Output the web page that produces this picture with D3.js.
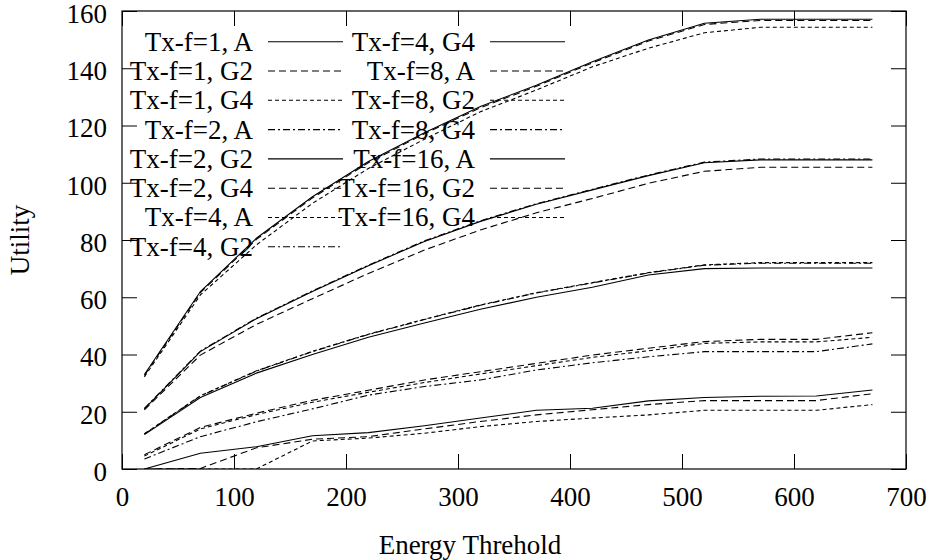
<!DOCTYPE html>
<html>
<head>
<meta charset="utf-8">
<script src="https://cdn.jsdelivr.net/npm/d3@7"></script>
<style>
  body { margin: 0; background: #fff; }
  svg { display: block; font-family: "Liberation Serif", "Times New Roman", serif; }
</style>
</head>
<body>
<div id="chart"></div>
<script>
  // energy threshold values (x)
  var energy = [20, 70, 120, 170, 220, 270, 320, 370, 420, 470, 520, 570, 620, 670];

  // utility per series
  var f1A  = [33.0, 62.0, 80.6, 95.1, 107.4, 117.5, 126.6, 134.1, 142.3, 149.9, 155.7, 157.1, 157.1, 157.1];
  var f1G2 = [32.7, 61.6, 80.2, 94.7, 107.0, 117.1, 126.2, 133.7, 141.9, 149.5, 155.3, 156.7, 156.7, 156.7];
  var f1G4 = [32.2, 60.8, 78.3, 92.8, 105.0, 115.2, 124.8, 132.4, 140.5, 147.0, 152.4, 154.3, 154.3, 154.3];
  var f2A  = [21.2, 41.2, 52.7, 62.2, 71.2, 79.7, 86.7, 92.7, 97.7, 102.7, 107.2, 108.3, 108.3, 108.3];
  var f2G2 = [21.0, 41.0, 52.5, 62.0, 71.0, 79.5, 86.5, 92.5, 97.5, 102.5, 107.0, 108.0, 108.0, 108.0];
  var f2G4 = [20.7, 39.8, 50.5, 59.5, 68.3, 76.5, 83.5, 89.5, 94.5, 99.8, 104.0, 105.4, 105.4, 105.4];
  var f4A  = [12.3, 25.6, 34.3, 41.1, 47.1, 52.3, 57.3, 61.6, 65.1, 68.6, 71.3, 72.1, 72.1, 72.1];
  var f4G2 = [12.2, 25.5, 34.2, 41.0, 47.0, 52.2, 57.2, 61.5, 65.0, 68.5, 71.2, 71.9, 71.9, 71.9];
  var f4G4 = [12.0, 25.0, 33.5, 40.0, 46.0, 51.0, 55.8, 60.0, 63.5, 67.8, 70.0, 70.2, 70.2, 70.2];
  var f8A  = [5.0, 14.5, 19.5, 24.0, 27.5, 31.1, 34.0, 36.9, 39.8, 42.2, 44.5, 45.3, 45.3, 47.6];
  var f8G2 = [4.5, 14.0, 19.0, 23.3, 26.8, 30.2, 33.2, 36.1, 39.0, 41.3, 43.9, 44.4, 44.4, 46.0];
  var f8G4 = [3.5, 11.3, 16.5, 21.0, 25.8, 28.8, 31.1, 34.6, 37.1, 39.2, 41.0, 41.0, 41.0, 43.7];
  var f16A  = [0.0, 5.5, 7.8, 11.6, 12.7, 15.1, 17.8, 20.5, 21.2, 23.8, 25.0, 25.4, 25.5, 27.6];
  var f16G2 = [0.0, 0.2, 7.4, 10.4, 11.3, 14.0, 16.6, 18.9, 20.7, 22.5, 23.9, 23.9, 23.9, 26.3];
  var f16G4 = [0.0, 0.0, 0.0, 9.8, 10.8, 12.5, 14.8, 16.6, 17.8, 18.9, 20.5, 20.5, 20.5, 22.5];

  var seriesNames = ["Tx-f=1, A", "Tx-f=1, G2", "Tx-f=1, G4",
    "Tx-f=2, A", "Tx-f=2, G2", "Tx-f=2, G4",
    "Tx-f=4, A", "Tx-f=4, G2", "Tx-f=4, G4",
    "Tx-f=8, A", "Tx-f=8, G2", "Tx-f=8, G4",
    "Tx-f=16, A", "Tx-f=16, G2", "Tx-f=16, G4"];
  var seriesValues = [f1A, f1G2, f1G4, f2A, f2G2, f2G4, f4A, f4G2, f4G4,
    f8A, f8G2, f8G4, f16A, f16G2, f16G4];

  var xTicks = [0, 100, 200, 300, 400, 500, 600, 700];
  var yTicks = [0, 20, 40, 60, 80, 100, 120, 140, 160];

  // gnuplot-like dash cycle: solid, long dash, short dash, dash-dot
  var dashes = [null, "7,4", "4,3", "7,3,2,3"];

  var width = 932, height = 560;
  var margin = { top: 11, right: 26, bottom: 91, left: 122 };
  var innerW = width - margin.left - margin.right;
  var innerH = height - margin.top - margin.bottom;
  var fontSize = 27;

  var svg = d3.select("#chart").append("svg")
    .attr("width", width).attr("height", height);

  var xScale = d3.scaleLinear().domain([0, 700]).range([margin.left, margin.left + innerW]);
  var yScale = d3.scaleLinear().domain([0, 160]).range([margin.top + innerH, margin.top]);

  svg.append("clipPath").attr("id", "plotclip").append("rect")
    .attr("x", margin.left).attr("y", margin.top).attr("width", innerW).attr("height", innerH);

  // axes, ticks pointing inwards, mirrored on top and right
  var tick = 15;
  function styleAxis(g) {
    g.selectAll(".domain").remove();
    g.selectAll("line").attr("stroke", "#000");
    g.selectAll("text").attr("fill", "#000").style("font-size", fontSize + "px")
      .style("font-family", "'Liberation Serif', 'Times New Roman', serif");
  }
  svg.append("g").attr("transform", "translate(0," + (margin.top + innerH) + ")")
    .call(d3.axisBottom(xScale).tickValues(xTicks).tickSize(-tick).tickSizeOuter(0).tickPadding(18))
    .call(styleAxis);
  svg.append("g").attr("transform", "translate(0," + margin.top + ")")
    .call(d3.axisTop(xScale).tickValues(xTicks).tickSize(-tick).tickSizeOuter(0).tickFormat(""))
    .call(styleAxis);
  svg.append("g").attr("transform", "translate(" + margin.left + ",0)")
    .call(d3.axisLeft(yScale).tickValues(yTicks).tickSize(-tick).tickSizeOuter(0).tickPadding(15))
    .call(styleAxis)
    .selectAll("text").attr("dy", "0.42em");
  svg.append("g").attr("transform", "translate(" + (margin.left + innerW) + ",0)")
    .call(d3.axisRight(yScale).tickValues(yTicks).tickSize(-tick).tickSizeOuter(0).tickFormat(""))
    .call(styleAxis);

  svg.append("rect")
    .attr("x", margin.left).attr("y", margin.top).attr("width", innerW).attr("height", innerH)
    .attr("fill", "none").attr("stroke", "#000").attr("stroke-width", 1.2);

  // data lines
  var line = d3.line()
    .x(function (d, i) { return xScale(energy[i]); })
    .y(function (d) { return yScale(d); });

  svg.append("g").attr("clip-path", "url(#plotclip)")
    .selectAll("path").data(seriesValues).enter().append("path")
    .attr("d", line)
    .attr("fill", "none")
    .attr("stroke", "#000")
    .attr("stroke-width", 1.1)
    .attr("stroke-dasharray", function (d, i) { return dashes[i % 4]; });

  // legend: two columns, text right-aligned before a line sample
  var legendRows = 8, rowH = 29.3, legendTop = 41.7;
  var cols = [{ textX: 253, x1: 268, x2: 343 }, { textX: 475, x1: 490, x2: 565 }];
  var legend = svg.append("g").selectAll("g").data(seriesNames).enter().append("g")
    .attr("transform", function (d, i) {
      var r = i % legendRows;
      return "translate(0," + (legendTop + r * rowH) + ")";
    });
  legend.append("text")
    .attr("x", function (d, i) { return cols[Math.floor(i / legendRows)].textX; })
    .attr("dy", "0.33em")
    .attr("text-anchor", "end")
    .style("font-size", fontSize + "px")
    .text(function (d) { return d; });
  legend.append("line")
    .attr("x1", function (d, i) { return cols[Math.floor(i / legendRows)].x1; })
    .attr("x2", function (d, i) { return cols[Math.floor(i / legendRows)].x2; })
    .attr("stroke", "#000").attr("stroke-width", 1.1)
    .attr("stroke-dasharray", function (d, i) { return dashes[i % 4]; });

  // axis titles
  svg.append("text")
    .attr("x", 470).attr("y", 545)
    .attr("dy", "0.33em").attr("text-anchor", "middle")
    .style("font-size", fontSize + "px")
    .text("Energy Threhold");
  svg.append("text")
    .attr("transform", "translate(20," + (margin.top + innerH / 2) + ") rotate(-90)")
    .attr("dy", "0.33em").attr("text-anchor", "middle")
    .style("font-size", fontSize + "px")
    .text("Utility");
</script>
</body>
</html>
